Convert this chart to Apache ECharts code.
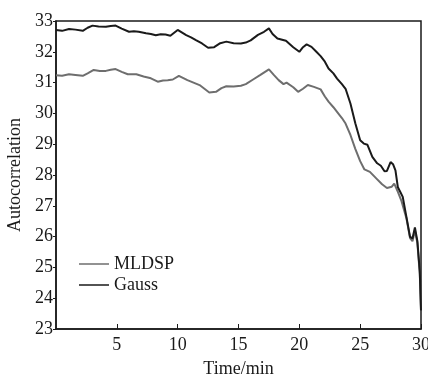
<!DOCTYPE html>
<html>
<head>
<meta charset="utf-8">
<script src="https://cdn.jsdelivr.net/npm/echarts@6/dist/echarts.min.js"></script>
<style>
  html, body { margin: 0; padding: 0; background: #fff; }
  #main { width: 428px; height: 374px; }
</style>
</head>
<body>
<div id="main"></div>
<script>
// values (time in min, autocorrelation)
var gaussTime = [0, 0.5, 1.07, 1.6, 2.2, 2.6, 3.0, 3.5, 4.1, 4.5, 4.9, 5.4, 6.0, 6.4, 6.8, 7.4, 7.8, 8.2, 8.6, 9.0, 9.4, 10.0,
  10.7, 11.1, 11.5, 12.0, 12.5, 13.0, 13.5, 14.0, 14.6, 15.2, 15.6, 16.0, 16.6, 17.1, 17.5, 17.8, 18.2, 18.9, 19.5, 20.0,
  20.3, 20.6, 21.0, 21.4, 21.75, 22.1, 22.4, 22.8, 23.1, 23.5, 23.8, 24.2, 24.6, 25.0, 25.3, 25.6, 26.0, 26.4, 26.7, 27.0,
  27.2, 27.5, 27.7, 27.9, 28.1, 28.3, 28.5, 28.8, 29.1, 29.3, 29.5, 29.7, 29.9, 30.0];
var gaussVals = [32.71, 32.68, 32.74, 32.72, 32.68, 32.78, 32.85, 32.82, 32.81, 32.84, 32.85, 32.75, 32.65, 32.67, 32.65, 32.60, 32.58, 32.54, 32.57, 32.56, 32.52, 32.71,
  32.54, 32.47, 32.38, 32.27, 32.13, 32.15, 32.28, 32.33, 32.28, 32.27, 32.30, 32.37, 32.55, 32.65, 32.76, 32.58, 32.43, 32.36, 32.15, 32.0,
  32.15, 32.24, 32.16, 32.0, 31.86, 31.68, 31.46, 31.3, 31.13, 30.95, 30.8, 30.32, 29.68, 29.13, 29.02, 28.98, 28.59, 28.38, 28.3, 28.12,
  28.13, 28.42, 28.35, 28.15, 27.6, 27.45, 27.29, 26.64, 25.99, 25.94, 26.3, 25.86, 24.88, 23.6];

var mldspTime = [0, 0.5, 1.07, 1.6, 2.2, 2.6, 3.1, 3.6, 4.1, 4.5, 4.9, 5.4, 5.9, 6.6, 7.2, 7.8, 8.36, 8.8, 9.18, 9.6, 10.1,
  10.8, 11.3, 11.8, 12.2, 12.6, 13.15, 13.6, 14.0, 14.6, 15.2, 15.6, 16.2, 16.8, 17.5, 17.9, 18.3, 18.7, 18.95, 19.5, 19.9,
  20.3, 20.7, 21.2, 21.75, 22.1, 22.4, 22.8, 23.1, 23.5, 23.8, 24.2, 24.6, 25.0, 25.35, 25.8, 26.3, 26.8, 27.2, 27.6, 27.8,
  28.1, 28.4, 28.8, 29.1, 29.3, 29.5, 29.7, 29.9, 30.0];
var mldspVals = [31.24, 31.22, 31.27, 31.25, 31.22, 31.3, 31.41, 31.38, 31.38, 31.42, 31.44, 31.35, 31.27, 31.27, 31.2, 31.14, 31.03, 31.07, 31.08, 31.1, 31.22,
  31.08, 31.0, 30.92, 30.8, 30.68, 30.7, 30.82, 30.88, 30.87, 30.9, 30.95, 31.1, 31.25, 31.43, 31.25, 31.08, 30.95, 31.0, 30.85, 30.7,
  30.8, 30.92, 30.86, 30.78, 30.55, 30.38, 30.2, 30.05, 29.85, 29.67, 29.3, 28.85, 28.45, 28.18, 28.1, 27.9, 27.7, 27.58, 27.62, 27.72,
  27.45, 27.15, 26.6, 25.95, 25.85, 26.2, 25.8, 24.8, 23.6];

var xTicks = [5, 10, 15, 20, 25, 30];
var yTicks = [23, 24, 25, 26, 27, 28, 29, 30, 31, 32, 33];

function pairs(t, v) {
  var out = [];
  for (var i = 0; i < t.length; i++) out.push([t[i], v[i]]);
  return out;
}

var font = "'Liberation Serif', 'Times New Roman', serif";
var ink = '#1a1a1a';

var myChart = echarts.init(document.getElementById('main'), null, { renderer: 'canvas' });
myChart.setOption({
  animation: false,
  backgroundColor: '#fff',
  grid: {
    left: 56, right: 7, top: 21, bottom: 45,
    outerBoundsMode: 'none', containLabel: false,
    show: true, borderColor: ink, borderWidth: 1.5
  },
  legend: {
    orient: 'vertical',
    left: 74,
    top: 250,
    itemWidth: 30,
    itemHeight: 1.5,
    itemGap: 3,
    icon: 'rect',
    textStyle: { fontFamily: font, fontSize: 18, color: ink },
    data: ['MLDSP', 'Gauss']
  },
  xAxis: {
    type: 'value',
    min: 0,
    max: 30,
    interval: 5,
    name: 'Time/min',
    nameLocation: 'middle',
    nameGap: 31,
    nameTextStyle: { fontFamily: font, fontSize: 18, color: ink },
    axisLine: { lineStyle: { color: ink, width: 1.5 } },
    axisTick: { inside: true, length: 5, lineStyle: { color: ink } },
    axisLabel: {
      fontFamily: font, fontSize: 18, color: ink, margin: 7, showMinLabel: false,
      formatter: function (v) { return xTicks.indexOf(v) >= 0 ? String(v) : ''; }
    },
    splitLine: { show: false }
  },
  yAxis: {
    type: 'value',
    min: yTicks[0],
    max: yTicks[yTicks.length - 1],
    interval: 1,
    name: 'Autocorrelation',
    nameLocation: 'middle',
    nameGap: 26,
    nameTextStyle: { fontFamily: font, fontSize: 18, color: ink },
    axisLine: { show: true, lineStyle: { color: ink, width: 1.5 } },
    axisTick: { show: true, length: 3, lineStyle: { color: ink } },
    axisLabel: { fontFamily: font, fontSize: 18, color: ink, margin: 3 },
    splitLine: { show: false }
  },
  series: [
    {
      name: 'MLDSP',
      type: 'line',
      showSymbol: false,
      color: '#6e6e6e',
      lineStyle: { color: '#6e6e6e', width: 2 },
      data: pairs(mldspTime, mldspVals)
    },
    {
      name: 'Gauss',
      type: 'line',
      showSymbol: false,
      color: '#1a1a1a',
      lineStyle: { color: '#1a1a1a', width: 2 },
      data: pairs(gaussTime, gaussVals)
    }
  ]
});
</script>
</body>
</html>
